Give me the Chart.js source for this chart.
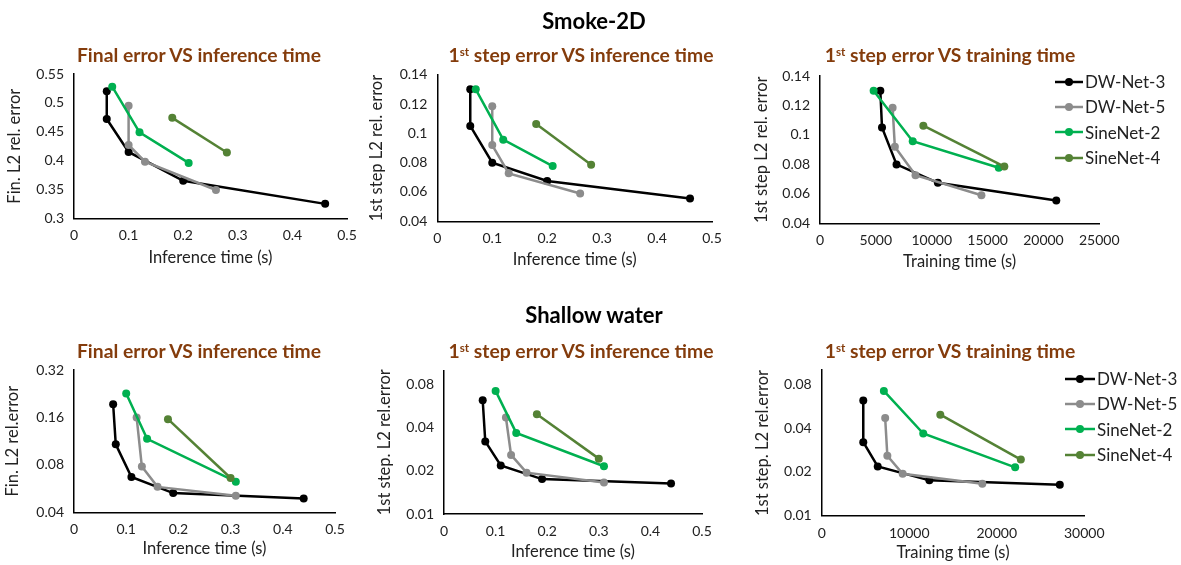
<!DOCTYPE html>
<html><head><meta charset="utf-8">
<script src="https://cdn.jsdelivr.net/npm/chart.js@4.4.1/dist/chart.umd.min.js"></script>
<style>
html,body{margin:0;padding:0;background:#fff;}
#wrap{position:relative;width:1181px;height:565px;overflow:hidden;font-family:Lato,sans-serif;}
canvas{position:absolute;left:0;top:0;}
.t{position:absolute;transform:translate(-50%,-50%);white-space:nowrap;font-weight:bold;line-height:1;}
.main{font-size:22px;color:#000;}
.sub{font-size:19.3px;color:#843C0C;}
.sub sup{font-size:60%;line-height:0;vertical-align:0.55em;}
.legend{position:absolute;font-size:17px;color:#222;line-height:1;}
.legend .it{display:flex;align-items:center;height:25.3px;}
.legend svg{display:block;margin-right:2px;}
</style></head>
<body><div id="wrap">
<canvas id="c1" width="1181" height="565"></canvas>
<canvas id="c2" width="1181" height="565"></canvas>
<canvas id="c3" width="1181" height="565"></canvas>
<canvas id="c4" width="1181" height="565"></canvas>
<canvas id="c5" width="1181" height="565"></canvas>
<canvas id="c6" width="1181" height="565"></canvas>
<div class="t main" style="left:594px;top:21px;">Smoke-2D</div>
<div class="t main" style="left:594px;top:315px;">Shallow water</div>
<div class="t sub" style="left:199px;top:55px;">Final error VS inference time</div>
<div class="t sub" style="left:581px;top:55px;">1<sup>st</sup> step error VS inference time</div>
<div class="t sub" style="left:950px;top:55px;">1<sup>st</sup> step error VS training time</div>
<div class="t sub" style="left:199px;top:351px;">Final error VS inference time</div>
<div class="t sub" style="left:581px;top:351px;">1<sup>st</sup> step error VS inference time</div>
<div class="t sub" style="left:950px;top:351px;">1<sup>st</sup> step error VS training time</div>
<div class="legend" id="lg1" style="left:1055px;top:69px;"></div>
<div class="legend" id="lg2" style="left:1065px;top:366px;"></div>
</div>
<script>
// ---- series ----
const seriesNames = ['DW-Net-3', 'DW-Net-5', 'SineNet-2', 'SineNet-4'];
const seriesColors = ['#000000', '#8C8C8C', '#00B050', '#548235'];

// ---- Smoke-2D ----
const smokeInfDW3 = [0.06, 0.06, 0.10, 0.20, 0.46];
const smokeInfDW5 = [0.10, 0.10, 0.13, 0.26];
const smokeInfSN2 = [0.07, 0.12, 0.21];
const smokeInfSN4 = [0.18, 0.28];

const smokeTrainDW3 = [5400, 5550, 6850, 10550, 21150];
const smokeTrainDW5 = [6500, 6700, 8550, 14450];
const smokeTrainSN2 = [4800, 8300, 16000];
const smokeTrainSN4 = [9250, 16500];

const smokeFinalDW3 = [0.52, 0.472, 0.415, 0.365, 0.325];
const smokeFinalDW5 = [0.495, 0.427, 0.398, 0.349];
const smokeFinalSN2 = [0.528, 0.449, 0.396];
const smokeFinalSN4 = [0.474, 0.414];

const smokeStep1DW3 = [0.13, 0.105, 0.08, 0.0675, 0.0555];
const smokeStep1DW5 = [0.1185, 0.092, 0.0727, 0.059];
const smokeStep1SN2 = [0.13, 0.0957, 0.0777];
const smokeStep1SN4 = [0.1063, 0.0785];

// ---- Shallow water ----
const swInfDW3 = [0.075, 0.08, 0.11, 0.19, 0.44];
const swInfDW5 = [0.12, 0.13, 0.16, 0.31];
const swInfSN2 = [0.10, 0.14, 0.31];
const swInfSN4 = [0.18, 0.30];

const swTrainDW3 = [4750, 4750, 6400, 12300, 27200];
const swTrainDW5 = [7250, 7500, 9250, 18350];
const swTrainSN2 = [7100, 11600, 22100];
const swTrainSN4 = [13550, 22750];

const swFinalDW3 = [0.194, 0.108, 0.067, 0.053, 0.049];
const swFinalDW5 = [0.16, 0.078, 0.058, 0.051];
const swFinalSN2 = [0.227, 0.117, 0.0626];
const swFinalSN4 = [0.156, 0.066];

const swStep1DW3 = [0.062, 0.032, 0.0218, 0.0175, 0.0163];
const swStep1DW5 = [0.047, 0.0258, 0.0194, 0.0166];
const swStep1SN2 = [0.072, 0.0367, 0.0215];
const swStep1SN4 = [0.0495, 0.0243];

// ---- tick labels ----
const inferTicks = [0, 0.1, 0.2, 0.3, 0.4, 0.5];
const smokeTrainTicks = [0, 5000, 10000, 15000, 20000, 25000];
const swTrainTicks = [0, 10000, 20000, 30000];
const smokeFinalTicks = [0.3, 0.35, 0.4, 0.45, 0.5, 0.55];
const smokeStep1Ticks = [0.04, 0.06, 0.08, 0.1, 0.12, 0.14];
const swFinalTicks = [0.04, 0.08, 0.16, 0.32];
const swStep1Ticks = [0.01, 0.02, 0.04, 0.08];

// ---- layout (pixel boxes of each plot area) ----
const W = 1181, H = 565;
const TICK_FONT = 14, AX_FONT = 16.5, LH = AX_FONT * 1.2;
const TXT = '#222';
const fmt = v => String(+Number(v).toFixed(6));

function pts(xs, ys) { return xs.map((x, i) => ({x: x, y: ys[i]})); }

function makeChart(id, box, xsArr, ysArr, xCfg, yCfg, xTitle, yTitle) {
  const datasets = xsArr.map((xs, i) => ({
    label: seriesNames[i],
    data: pts(xs, ysArr[i]),
    showLine: true,
    borderColor: seriesColors[i],
    backgroundColor: seriesColors[i],
    borderWidth: 2.5,
    pointRadius: 4,
    pointBorderWidth: 0,
    pointBackgroundColor: seriesColors[i],
    tension: 0,
    order: 3 - i
  }));
  const padLeft = box.yTitleX - LH / 2;
  const axisCommon = {
    grid: {display: false, drawTicks: false},
    border: {display: true, color: '#000', width: 1.5}
  };
  new Chart(document.getElementById(id), {
    type: 'scatter',
    data: {datasets: datasets},
    options: {
      responsive: false, animation: false, events: [],
      layout: {padding: {left: padLeft, right: W - box.right, top: box.top, bottom: H - (box.xTitleY + LH / 2)}},
      plugins: {legend: {display: false}, tooltip: {enabled: false}},
      scales: {
        x: Object.assign({}, axisCommon, {
          type: xCfg.type, position: 'bottom', min: xCfg.min, max: xCfg.max,
          afterBuildTicks: s => { s.ticks = xCfg.ticks.map(v => ({value: v})); },
          afterFit: s => { s.height = box.xTitleY + LH / 2 - box.bottom; },
          ticks: {padding: 9, color: TXT, font: {family: 'Lato', size: TICK_FONT}, callback: v => fmt(v), maxRotation: 0, autoSkip: false},
          title: {display: true, text: xTitle, color: TXT, font: {family: 'Lato', size: AX_FONT}, padding: 0}
        }),
        y: Object.assign({}, axisCommon, {
          type: yCfg.type, position: 'left', min: yCfg.min, max: yCfg.max,
          afterBuildTicks: s => { s.ticks = yCfg.ticks.map(v => ({value: v})); },
          afterFit: s => { s.width = box.left - padLeft; },
          ticks: {padding: 10, color: TXT, font: {family: 'Lato', size: TICK_FONT}, callback: v => fmt(v), autoSkip: false},
          title: {display: true, text: yTitle, color: TXT, font: {family: 'Lato', size: AX_FONT}, padding: 0}
        })
      }
    }
  });
}

const xInfer = {type: 'linear', min: 0, max: 0.5, ticks: inferTicks};

makeChart('c1', {left: 74, right: 347, top: 74, bottom: 218.3, yTitleX: 15, xTitleY: 258},
  [smokeInfDW3, smokeInfDW5, smokeInfSN2, smokeInfSN4],
  [smokeFinalDW3, smokeFinalDW5, smokeFinalSN2, smokeFinalSN4],
  xInfer, {type: 'linear', min: 0.3, max: 0.55, ticks: smokeFinalTicks},
  'Inference time (s)', 'Fin. L2 rel. error');

makeChart('c2', {left: 437.3, right: 712, top: 74.7, bottom: 221.3, yTitleX: 377, xTitleY: 260},
  [smokeInfDW3, smokeInfDW5, smokeInfSN2, smokeInfSN4],
  [smokeStep1DW3, smokeStep1DW5, smokeStep1SN2, smokeStep1SN4],
  xInfer, {type: 'linear', min: 0.04, max: 0.14, ticks: smokeStep1Ticks},
  'Inference time (s)', '1st step L2 rel. error');

makeChart('c3', {left: 820, right: 1099.3, top: 76, bottom: 223.3, yTitleX: 762, xTitleY: 262},
  [smokeTrainDW3, smokeTrainDW5, smokeTrainSN2, smokeTrainSN4],
  [smokeStep1DW3, smokeStep1DW5, smokeStep1SN2, smokeStep1SN4],
  {type: 'linear', min: 0, max: 25000, ticks: smokeTrainTicks},
  {type: 'linear', min: 0.04, max: 0.14, ticks: smokeStep1Ticks},
  'Training time (s)', '1st step L2 rel. error');

makeChart('c4', {left: 74, right: 335, top: 370, bottom: 512.3, yTitleX: 13, xTitleY: 549},
  [swInfDW3, swInfDW5, swInfSN2, swInfSN4],
  [swFinalDW3, swFinalDW5, swFinalSN2, swFinalSN4],
  xInfer, {type: 'logarithmic', min: 0.04, max: 0.32, ticks: swFinalTicks},
  'Inference time (s)', 'Fin. L2 rel.error');

makeChart('c5', {left: 444, right: 702, top: 370.4, bottom: 514, yTitleX: 385, xTitleY: 551.7},
  [swInfDW3, swInfDW5, swInfSN2, swInfSN4],
  [swStep1DW3, swStep1DW5, swStep1SN2, swStep1SN4],
  xInfer, {type: 'logarithmic', min: 0.01, max: 0.1, ticks: swStep1Ticks},
  'Inference time (s)', '1st step. L2 rel.error');

makeChart('c6', {left: 821.7, right: 1084.3, top: 370.2, bottom: 515.7, yTitleX: 763, xTitleY: 553},
  [swTrainDW3, swTrainDW5, swTrainSN2, swTrainSN4],
  [swStep1DW3, swStep1DW5, swStep1SN2, swStep1SN4],
  {type: 'linear', min: 0, max: 30000, ticks: swTrainTicks},
  {type: 'logarithmic', min: 0.01, max: 0.1, ticks: swStep1Ticks},
  'Training time (s)', '1st step. L2 rel.error');

// ---- legends ----
function buildLegend(id, iconW) {
  const el = document.getElementById(id);
  seriesNames.forEach((n, i) => {
    const c = seriesColors[i];
    el.insertAdjacentHTML('beforeend',
      '<div class="it"><svg width="' + iconW + '" height="10"><line x1="0" y1="5" x2="' + iconW + '" y2="5" stroke="' + c +
      '" stroke-width="2.5"/><circle cx="' + (iconW / 2) + '" cy="5" r="4" fill="' + c + '"/></svg><span>' + n + '</span></div>');
  });
}
buildLegend('lg1', 28);
buildLegend('lg2', 30);
</script>
</body></html>
